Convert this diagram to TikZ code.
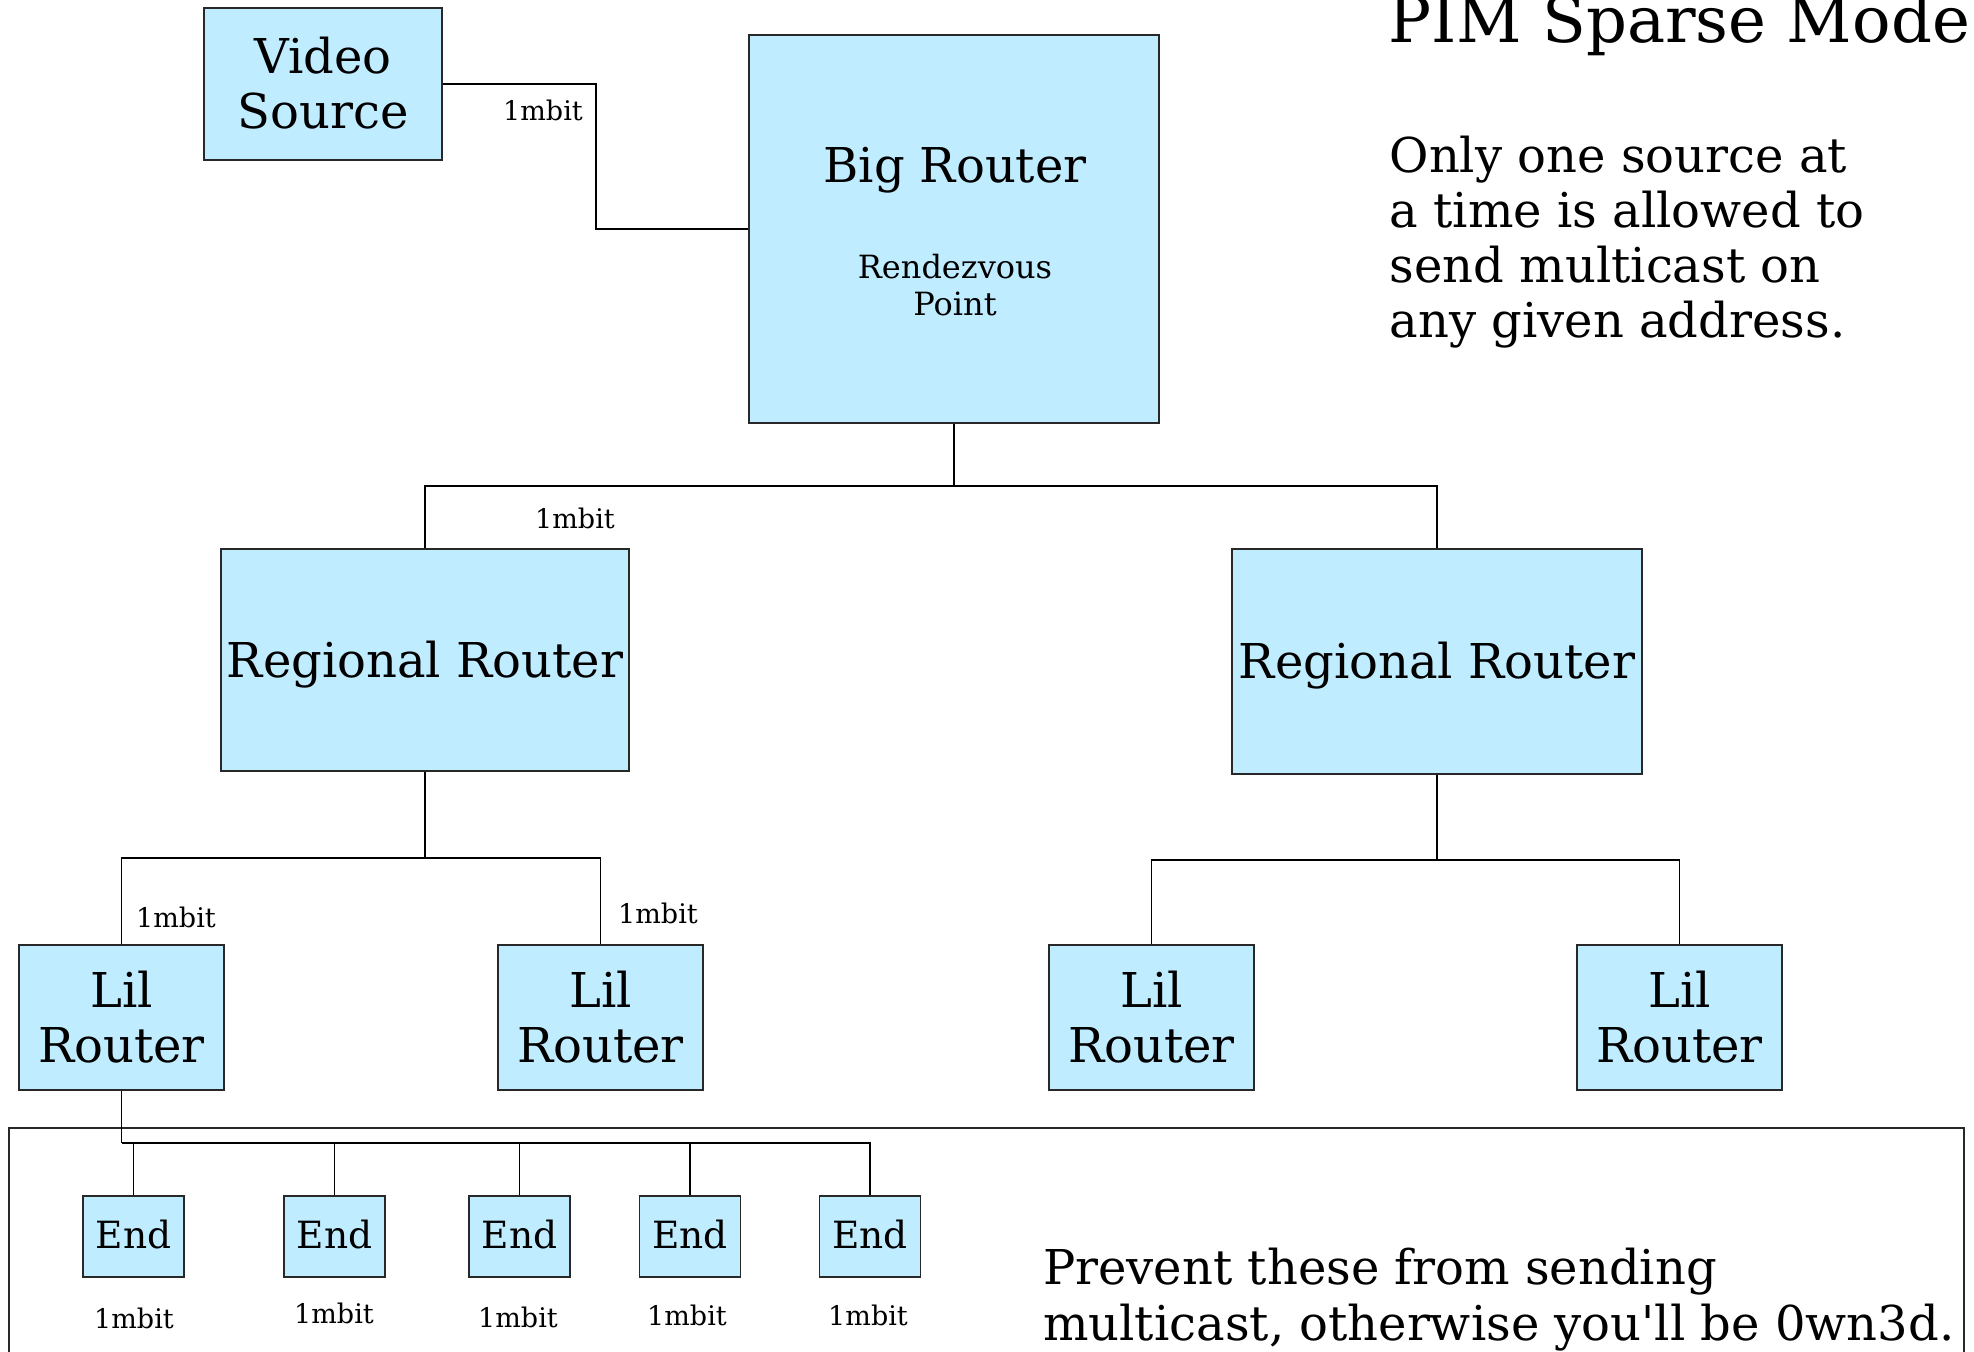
\documentclass[tikz,border=0pt]{standalone}
\usepackage{fontspec}
\setmainfont{DejaVu Serif}
\newfontfamily\plainserif{DejaVu Serif}
\definecolor{boxfill}{RGB}{192,236,255}
\definecolor{boxline}{RGB}{40,40,40}
\tikzset{
  box/.style={draw=boxline, fill=boxfill, line width=1.4pt, inner sep=0pt, rectangle},
  conn/.style={draw=black, line width=1.3pt},
  txt/.style={inner sep=0pt, anchor=base, text=black},
  big/.style={font=\fontsize{48}{55}\selectfont},
  mid/.style={font=\fontsize{37.5}{45}\selectfont},
  sml/.style={font=\fontsize{32}{37}\selectfont},
  lab/.style={font=\fontsize{27}{32}\selectfont},
}
\begin{document}
\begin{tikzpicture}[x=1pt,y=-1pt]
\useasboundingbox (0,0) rectangle (1974,1352);
\fill[white] (0,0) rectangle (1974,1352);

% boxes
\node[box, minimum width=238pt, minimum height=152pt] (vs) at (323,84) {};
\node[box, minimum width=410pt, minimum height=388pt] (bigr) at (954,229) {};
\node[box, minimum width=408pt, minimum height=222pt] (rl) at (425,660) {};
\node[box, minimum width=410pt, minimum height=225pt] (rr) at (1437,661.5) {};
\node[box, minimum width=205pt, minimum height=145pt] (l1) at (121.5,1017.5) {};
\node[box, minimum width=205pt, minimum height=145pt] (l2) at (600.5,1017.5) {};
\node[box, minimum width=205pt, minimum height=145pt] (l3) at (1151.5,1017.5) {};
\node[box, minimum width=205pt, minimum height=145pt] (l4) at (1679.5,1017.5) {};
\foreach \n/\x in {1/133.5,2/334.5,3/519.5,4/690,5/870}{
  \node[box, minimum width=101pt, minimum height=81pt] (e\n) at (\x,1236.5) {};
}

% frame
\draw[draw=boxline, line width=1.3pt] (9,1360) -- (9,1128) -- (1964,1128) -- (1964,1360);

% connectors
\coordinate (vj) at (596,84);
\draw[conn] (vs.east) -- (vj) |- (bigr.west);
\coordinate (b1) at (954,486);
\draw[conn] (bigr.south) -- (b1) -| (rl.north);
\draw[conn] (b1) -| (rr.north);
\coordinate (b2) at (425,858);
\draw[conn] (rl.south) -- (b2) -| (l1.north);
\draw[conn] (b2) -| (l2.north);
\coordinate (b3) at (1437,860);
\draw[conn] (rr.south) -- (b3) -| (l3.north);
\draw[conn] (b3) -| (l4.north);
\coordinate (b4) at (121.5,1143);
\draw[conn] (l1.south) -- (b4);
\foreach \n in {1,...,5}{
  \draw[conn] (b4) -| (e\n.north);
}

% texts
\node[txt, big] (t1) at (323,73) {Video};
\node[txt, big] (t2) at (323,128) {Source};
\node[txt, big] (t3) at (955,182) {Big Router};
\node[txt, sml] (t4) at (955,278) {Rendezvous};
\node[txt, sml] (t5) at (955,315) {Point};
\node[txt, big] (t6) at (425,677) {Regional Router};
\node[txt, big] (t7) at (1437,678) {Regional Router};
\foreach \n/\x in {1/121.5,2/600.5,3/1151.5,4/1679.5}{
  \node[txt, big] (lA\n) at (\x,1007) {Lil};
  \node[txt, big] (lB\n) at (\x,1062) {Router};
}
\foreach \n/\x in {1/133.5,2/334.5,3/519.5,4/690,5/870}{
  \node[txt, mid] (et\n) at (\x,1248.5) {End};
}
% bandwidth labels
\node[txt, lab] (m1) at (543,120) {1mbit};
\node[txt, lab] (m2) at (575,528) {1mbit};
\node[txt, lab] (m3) at (176,927) {1mbit};
\node[txt, lab] (m4) at (658,923) {1mbit};
\node[txt, lab] (m5) at (134,1328) {1mbit};
\node[txt, lab] (m6) at (334,1323) {1mbit};
\node[txt, lab] (m7) at (518,1327) {1mbit};
\node[txt, lab] (m8) at (687,1325) {1mbit};
\node[txt, lab] (m9) at (868,1325) {1mbit};

% title and notes
\node[txt, anchor=base west, font=\fontsize{64}{72}\selectfont] (title) at (1388,42) {PIM Sparse Mode};
\node[txt, anchor=base west, font=\fontsize{48}{55}\selectfont] (p1) at (1389.5,172) {Only one source at};
\node[txt, anchor=base west, font=\fontsize{48}{55}\selectfont] (p2) at (1389.5,227) {a time is allowed to};
\node[txt, anchor=base west, font=\fontsize{48}{55}\selectfont] (p3) at (1389.5,282) {send multicast on};
\node[txt, anchor=base west, font=\fontsize{48}{55}\selectfont] (p4) at (1389.5,337) {any given address.};
\node[txt, anchor=base west, font=\fontsize{48}{55}\selectfont] (q1) at (1043,1284) {Prevent these from sending};
\node[txt, anchor=base west, font=\plainserif\fontsize{48}{55}\selectfont] (q2) at (1043,1340) {multicast, otherwise you'll be 0wn3d.};
\end{tikzpicture}
\end{document}
